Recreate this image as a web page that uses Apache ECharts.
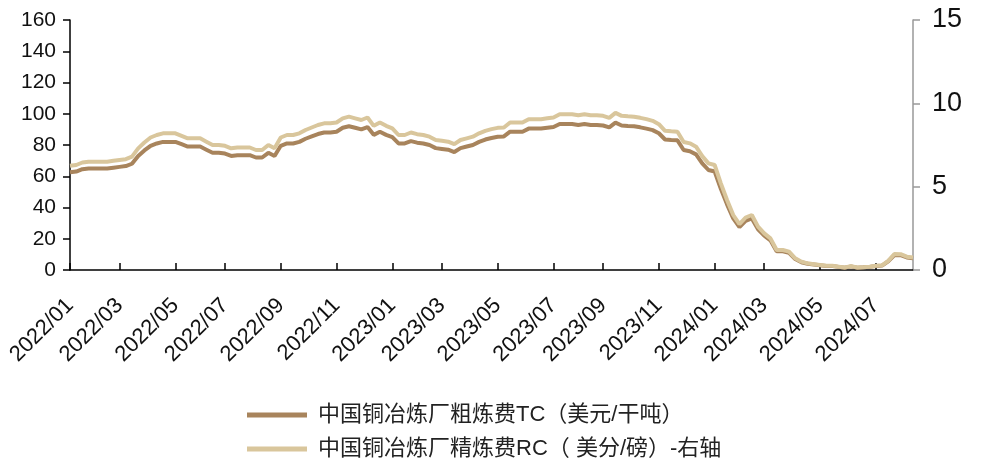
<!DOCTYPE html>
<html>
<head>
<meta charset="utf-8">
<script src="https://cdn.jsdelivr.net/npm/echarts@6/dist/echarts.min.js"></script>
<style>html,body{margin:0;padding:0;background:#fff;}#c{width:984px;height:459px;}</style>
</head>
<body>
<div id="c"></div>
<script>
// Weekly observations, first week 2022-01-07
const startDate = '2022-01-07';
const seriesNames = ['中国铜冶炼厂粗炼费TC（美元/干吨）', '中国铜冶炼厂精炼费RC（ 美分/磅）-右轴'];
const tcValues = [
  62.5, 63, 64.5, 65, 65, 65, 65, 65.5, 66, 66.5,
  68, 73, 76.5, 79.5, 81, 82, 82, 82, 80.5, 79,
  79, 79, 77, 75, 75, 74.5, 73, 73.5, 73.5, 73.5,
  72, 72, 75, 73, 79.5, 81, 81, 82, 84, 85.5,
  87, 88, 88, 88.5, 91, 92, 91, 90, 91.5, 86.5,
  88.5, 86.5, 85, 81, 81, 82.5, 81.5, 81, 80, 78,
  77.5, 77, 75.5, 78, 79, 80, 82, 83.5, 84.5, 85.3,
  85.5, 88.5, 88.5, 88.5, 90.5, 90.5, 90.5, 91, 91.5, 93.4,
  93.4, 93.4, 92.8, 93.4, 92.8, 92.8, 92.5, 91.3, 94.3, 92.5,
  92.2, 92, 91.3, 90.5, 89.5, 87.5, 83.5, 83.2, 83, 76.8,
  76, 74, 68.3, 64, 63, 52, 42, 33, 27.5, 31.5,
  33, 26, 22, 19, 12, 12, 11, 7, 5, 4,
  3.5, 3, 2.5, 2.5, 2, 1.5, 2.3, 1.5, 1.7, 2,
  2.5, 2.8, 5.5, 9.6, 9.5, 8, 7.5
];
const rcValues = [
  6.25, 6.3, 6.45, 6.5, 6.5, 6.5, 6.5, 6.55, 6.6, 6.65,
  6.8, 7.3, 7.65, 7.95, 8.1, 8.2, 8.2, 8.2, 8.05, 7.9,
  7.9, 7.9, 7.7, 7.5, 7.5, 7.45, 7.3, 7.35, 7.35, 7.35,
  7.2, 7.2, 7.5, 7.3, 7.95, 8.1, 8.1, 8.2, 8.4, 8.55,
  8.7, 8.8, 8.8, 8.85, 9.1, 9.2, 9.1, 9.0, 9.15, 8.65,
  8.85, 8.65, 8.5, 8.1, 8.1, 8.25, 8.15, 8.1, 8.0, 7.8,
  7.75, 7.7, 7.55, 7.8, 7.9, 8.0, 8.2, 8.35, 8.45, 8.53,
  8.55, 8.85, 8.85, 8.85, 9.05, 9.05, 9.05, 9.1, 9.15, 9.34,
  9.34, 9.34, 9.28, 9.34, 9.28, 9.28, 9.25, 9.13, 9.43, 9.25,
  9.22, 9.2, 9.13, 9.05, 8.95, 8.75, 8.35, 8.32, 8.3, 7.68,
  7.6, 7.4, 6.83, 6.4, 6.3, 5.2, 4.2, 3.3, 2.75, 3.15,
  3.3, 2.6, 2.2, 1.9, 1.2, 1.2, 1.1, 0.7, 0.5, 0.4,
  0.35, 0.3, 0.25, 0.25, 0.2, 0.15, 0.23, 0.15, 0.17, 0.2,
  0.25, 0.28, 0.55, 0.96, 0.95, 0.8, 0.75
];
const leftTicks = [0, 160, 20];
const rightTicks = [0, 15, 5];

// weekly category dates
const categories = [];
const months = [];
(function () {
  const d0 = new Date(startDate + 'T00:00:00Z');
  for (let i = 0; i < tcValues.length; i++) {
    const d = new Date(d0.getTime() + i * 7 * 86400000);
    const y = d.getUTCFullYear();
    const m = d.getUTCMonth() + 1;
    categories.push(y + '/' + (m < 10 ? '0' + m : '' + m) + '/' + String(d.getUTCDate()).padStart(2, '0'));
    months.push(y * 12 + m);
  }
})();
function isMark(i) {
  if (i === 0) return true;
  const m = months[i] % 12 === 0 ? 12 : months[i] % 12;
  return months[i] !== months[i - 1] && (m % 2 === 1);
}

const chart = echarts.init(document.getElementById('c'), null, { renderer: 'canvas' });
chart.setOption({
  animation: false,
  backgroundColor: '#ffffff',
  grid: { left: 70, right: 71, top: 20, bottom: 189, containLabel: false },
  legend: {
    orient: 'vertical',
    left: 242,
    top: 399,
    height: 120,
    itemWidth: 60,
    itemHeight: 5,
    itemGap: 12,
    icon: 'rect',
    textStyle: { fontFamily: '"Liberation Sans", "Noto Sans CJK SC", sans-serif', fontSize: 22, color: '#222', padding: [0, 0, 0, 6] },
    data: seriesNames
  },
  xAxis: {
    type: 'category',
    data: categories,
    boundaryGap: false,
    axisLine: { lineStyle: { color: '#000', width: 1.5 } },
    axisTick: { inside: true, length: 7, interval: (i) => isMark(i), lineStyle: { color: '#000', width: 1.5 } },
    axisLabel: {
      interval: (i) => isMark(i),
      rotate: 45,
      margin: 32,
      color: '#111',
      fontFamily: '"Liberation Sans", Arial, sans-serif',
      fontSize: 22,
      formatter: (v) => v.slice(0, 7)
    },
    splitLine: { show: false }
  },
  yAxis: [
    {
      type: 'value', min: leftTicks[0], max: leftTicks[1], interval: leftTicks[2],
      axisLine: { show: true, lineStyle: { color: '#000', width: 1.5 } },
      axisTick: { show: true, length: 7, lineStyle: { color: '#000', width: 1.5 } },
      axisLabel: { color: '#111', fontFamily: '"Liberation Sans", Arial, sans-serif', fontSize: 21, margin: 14 },
      splitLine: { show: false }
    },
    {
      type: 'value', min: rightTicks[0], max: rightTicks[1], interval: rightTicks[2],
      position: 'right',
      axisLine: { show: true, lineStyle: { color: '#999', width: 1.5 } },
      axisTick: { show: true, length: 7, lineStyle: { color: '#999', width: 1.5 } },
      axisLabel: { color: '#111', fontFamily: '"Liberation Sans", Arial, sans-serif', fontSize: 27, margin: 19 },
      splitLine: { show: false }
    }
  ],
  series: [
    {
      name: seriesNames[0], type: 'line', yAxisIndex: 0, data: tcValues,
      showSymbol: false, symbol: 'none',
      lineStyle: { color: '#A8845C', width: 4 }, itemStyle: { color: '#A8845C' }, z: 2
    },
    {
      name: seriesNames[1], type: 'line', yAxisIndex: 1, data: rcValues,
      showSymbol: false, symbol: 'none',
      lineStyle: { color: '#D9C69C', width: 4 }, itemStyle: { color: '#D9C69C' }, z: 3
    }
  ]
});
</script>
</body>
</html>
